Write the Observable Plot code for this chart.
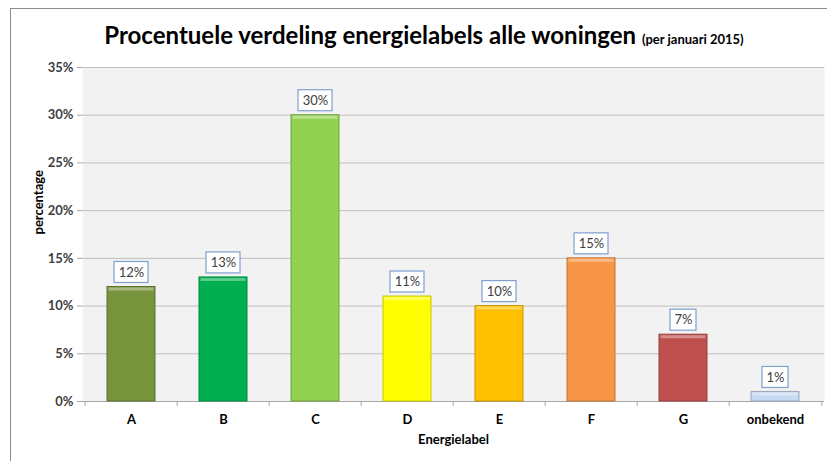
<!DOCTYPE html>
<html>
<head>
<meta charset="utf-8">
<script src="https://cdn.jsdelivr.net/npm/d3@7"></script>
<script src="https://cdn.jsdelivr.net/npm/@observablehq/plot@0.6"></script>
<style>
  html, body { margin: 0; padding: 0; background: #ffffff; }
  #wrap { position: relative; width: 827px; height: 461px; overflow: hidden; font-family: Lato, "Open Sans", sans-serif; }
  #frameL { position: absolute; left: 10px; top: 8px; width: 0; height: 460px; border-left: 1.5px solid #8c8c8c; }
  #frameT { position: absolute; left: 10px; top: 8px; width: 820px; height: 0; border-top: 1.5px solid #8c8c8c; }
  #title { position: absolute; left: 21px; width: 806px; top: 23px; text-align: center; font-weight: bold; font-size: 24px; line-height: 24px; color: #000; white-space: nowrap; }
  #title .sub { font-size: 13px; }
  #chart { position: absolute; left: 0; top: 0; }
</style>
</head>
<body>
<div id="wrap">
  <div id="chart"></div>
  <div id="frameL"></div>
  <div id="frameT"></div>
  <div id="title">Procentuele verdeling energielabels alle woningen <span class="sub">(per januari 2015)</span></div>
</div>
<script>
const labels = ["A", "B", "C", "D", "E", "F", "G", "onbekend"];
const values = [12, 13, 30, 11, 10, 15, 7, 1];
const colors = ["#77933c", "#00b050", "#92d050", "#ffff00", "#ffc000", "#f79646", "#c0504d", "#c6d9f1"];
const yTicks = [0, 5, 10, 15, 20, 25, 30, 35];

const data = labels.map((label, i) => ({
  label,
  value: values[i],
  color: colors[i],
  dark: d3.color(colors[i]).darker(0.7).formatHex(),
  light: d3.interpolateRgb(colors[i], "#ffffff")(0.35)
}));

const W = 827, H = 461;
const mL = 82, mR = 3, mT = 67, mB = 60;
const step = (W - mL - mR) / labels.length;
const axisGray = "#a6a6a6";

const chart = Plot.plot({
  width: W,
  height: H,
  marginLeft: mL,
  marginRight: mR,
  marginTop: mT,
  marginBottom: mB,
  style: { fontFamily: "Lato, 'Open Sans', sans-serif", fontSize: "12px", background: "transparent" },
  x: { domain: labels, paddingInner: 0.48, paddingOuter: 0.24, label: null },
  y: { domain: [0, 35], label: null },
  marks: [
    Plot.frame({ fill: "#f2f2f2", stroke: null }),
    Plot.gridY(yTicks.filter(d => d > 0), { stroke: "#bfbfbf", strokeOpacity: 1 }),
    Plot.ruleY([0], { stroke: axisGray }),
    Plot.axisY({
      ticks: yTicks, tickFormat: d => d + "%", tickSize: 5, tickPadding: 4,
      stroke: axisGray, fill: "#404040", fontWeight: "bold", fontSize: 13, label: null
    }),
    Plot.axisX({ tickSize: 0, tickPadding: 13, fill: "#000", fontWeight: "bold", fontSize: 13, label: null }),
    Plot.ruleX(labels, { x: d => d, dx: -step / 2, y1: 0, y2: 0, insetBottom: -5, stroke: axisGray }),
    Plot.ruleX([labels[labels.length - 1]], { x: d => d, dx: step / 2, y1: 0, y2: 0, insetBottom: -5, stroke: axisGray }),
    Plot.barY(data, { x: "label", y: "value", fill: "color", stroke: "dark", strokeWidth: 1 }),
    Plot.tickY(data, { x: "label", y: "value", stroke: "light", strokeWidth: 3, dy: 2, inset: 1.5 }),
    Plot.barY(data, {
      filter: d => d.value >= 10, x: "label", y1: "value", y2: "value",
      insetTop: -25, insetBottom: 4, insetLeft: 7, insetRight: 7,
      fill: "#ffffff", stroke: "#7f9fcf", strokeWidth: 1.2
    }),
    Plot.barY(data, {
      filter: d => d.value < 10, x: "label", y1: "value", y2: "value",
      insetTop: -25, insetBottom: 4, insetLeft: 11, insetRight: 11,
      fill: "#ffffff", stroke: "#7f9fcf", strokeWidth: 1.2
    }),
    Plot.text(data, { x: "label", y: "value", text: d => d.value + "%", dy: -14.5, fontSize: 13, fill: "#404040" }),
    Plot.text(["percentage"], { frameAnchor: "left", dx: -44, rotate: -90, fontWeight: "bold", fontSize: 13, fill: "#000" }),
    Plot.text(["Energielabel"], { frameAnchor: "bottom", dy: 42, fontWeight: "bold", fontSize: 13, fill: "#000" })
  ]
});
document.getElementById("chart").appendChild(chart);
</script>
</body>
</html>
